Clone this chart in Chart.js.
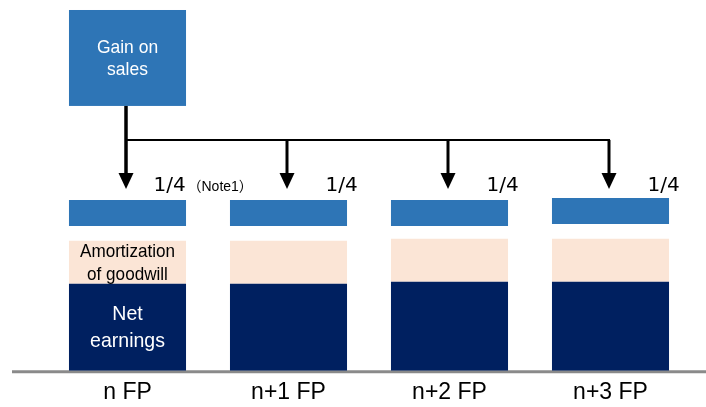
<!DOCTYPE html>
<html>
<head>
<meta charset="utf-8">
<script src="https://cdn.jsdelivr.net/npm/chart.js@4/dist/chart.umd.min.js"></script>
<style>
  html, body { margin: 0; padding: 0; background: #fff; }
  #wrap { width: 706px; height: 407px; }
</style>
</head>
<body>
<div id="wrap"><canvas id="goodwillChart"></canvas></div>
<script>
// periods and stacked pieces (units = height)
const periods = ['n FP', 'n+1 FP', 'n+2 FP', 'n+3 FP'];
const netEarnings = [87, 87, 89, 89];
const amortization = [43, 43, 43, 43];
const spacer = [15, 15, 13, 15];
const gainQuarter = [26, 26, 26, 26];
const shareLabels = ['1/4', '1/4', '1/4', '1/4'];

const NAVY = '#002060';
const PEACH = '#FBE5D6';
const BLUE = '#2E75B6';

// squeezed text, the original font is a bit narrower than Liberation Sans
function narrowText(ctx, text, x, y, squeeze) {
    ctx.save();
    ctx.translate(x, y);
    ctx.scale(squeeze, 1);
    ctx.fillText(text, 0, 0);
    ctx.restore();
}

// draws the "Gain on sales" box, arrows and in-bar texts
const diagramPlugin = {
    id: 'diagram',
    beforeDatasetsDraw(chart) {
        const ctx = chart.ctx;
        const base = chart.scales.y.getPixelForValue(0);
        ctx.save();
        ctx.strokeStyle = '#8a8a8a';
        ctx.lineWidth = 3;
        ctx.beginPath();
        ctx.moveTo(12, base + 1);
        ctx.lineTo(chart.width, base + 1);
        ctx.stroke();
        ctx.restore();
    },
    afterDatasetsDraw(chart) {
        const ctx = chart.ctx;
        const y = chart.scales.y;
        const gainMeta = chart.getDatasetMeta(3);
        const amortMeta = chart.getDatasetMeta(1);
        const netMeta = chart.getDatasetMeta(0);
        const first = gainMeta.data[0];
        const half = first.width / 2;
        const xs = gainMeta.data.map(b => b.x - 1.5);

        ctx.save();
        // source box
        const boxTop = y.getPixelForValue(361);
        const boxBottom = y.getPixelForValue(265);
        ctx.fillStyle = BLUE;
        ctx.fillRect(first.x - half, boxTop, first.width, boxBottom - boxTop);
        ctx.fillStyle = '#fff';
        ctx.font = '19px "Liberation Sans", Arial, sans-serif';
        ctx.textAlign = 'center';
        ctx.textBaseline = 'middle';
        const boxMid = (boxTop + boxBottom) / 2;
        narrowText(ctx, 'Gain on', first.x, boxMid - 10, 0.92);
        narrowText(ctx, 'sales', first.x, boxMid + 12, 0.92);

        // connectors
        const railY = y.getPixelForValue(231);
        const tipY = y.getPixelForValue(182);
        ctx.strokeStyle = '#000';
        ctx.lineWidth = 3.5;
        ctx.beginPath();
        ctx.moveTo(xs[0], boxBottom);
        ctx.lineTo(xs[0], tipY - 12);
        ctx.stroke();
        ctx.lineWidth = 2;
        ctx.beginPath();
        ctx.moveTo(xs[0], railY);
        ctx.lineTo(xs[xs.length - 1] + 1, railY);
        ctx.stroke();
        ctx.lineWidth = 3;
        xs.forEach((x, i) => {
            if (i > 0) {
                ctx.beginPath();
                ctx.moveTo(x, railY);
                ctx.lineTo(x, tipY - 12);
                ctx.stroke();
            }
            ctx.fillStyle = '#000';
            ctx.beginPath();
            ctx.moveTo(x - 7.5, tipY - 16);
            ctx.lineTo(x + 7.5, tipY - 16);
            ctx.lineTo(x, tipY);
            ctx.closePath();
            ctx.fill();
        });

        // 1/4 labels
        ctx.fillStyle = '#000';
        ctx.textAlign = 'left';
        ctx.font = '20px "DejaVu Sans", Verdana, sans-serif';
        const shareY = y.getPixelForValue(185);
        gainMeta.data.forEach((b, i) => {
            const offset = i === 0 ? 26 : 37;
            ctx.fillText(shareLabels[i], b.x + offset, shareY);
        });
        ctx.font = '14px "Liberation Sans", Arial, "Noto Sans CJK JP", sans-serif';
        ctx.fillText('（Note1）', gainMeta.data[0].x + 60, shareY + 1);

        // texts inside the first bar
        const a = amortMeta.data[0];
        const aMid = (a.y + a.base) / 2;
        ctx.textAlign = 'center';
        ctx.fillStyle = '#000';
        ctx.font = '19px "Liberation Sans", Arial, sans-serif';
        narrowText(ctx, 'Amortization', a.x, aMid - 11, 0.9);
        narrowText(ctx, 'of goodwill', a.x, aMid + 12, 0.9);
        const n = netMeta.data[0];
        const nMid = (n.y + n.base) / 2;
        ctx.fillStyle = '#fff';
        ctx.font = '21px "Liberation Sans", Arial, sans-serif';
        narrowText(ctx, 'Net', n.x, nMid - 13, 0.93);
        narrowText(ctx, 'earnings', n.x, nMid + 14, 0.93);
        ctx.restore();
    }
};

new Chart(document.getElementById('goodwillChart'), {
    type: 'bar',
    data: {
        labels: periods,
        datasets: [
            { label: 'Net earnings', data: netEarnings, backgroundColor: NAVY },
            { label: 'Amortization of goodwill', data: amortization, backgroundColor: PEACH },
            { label: 'spacer', data: spacer, backgroundColor: 'rgba(0,0,0,0)' },
            { label: 'Gain on sales 1/4', data: gainQuarter, backgroundColor: BLUE }
        ]
    },
    options: {
        responsive: true,
        maintainAspectRatio: false,
        animation: false,
        layout: { padding: { left: 47, right: 15, top: 0, bottom: -7.4 } },
        datasets: { bar: { categoryPercentage: 1, barPercentage: 0.727, borderWidth: 0 } },
        scales: {
            x: {
                stacked: true,
                grid: { display: false, drawTicks: false },
                border: { display: false },
                ticks: {
                    padding: 8,
                    color: '#000',
                    font: { family: '"Liberation Sans", Arial, sans-serif', size: 23 }
                }
            },
            y: { stacked: true, display: false, min: 0, max: 371 }
        },
        plugins: {
            legend: { display: false },
            tooltip: { enabled: false }
        }
    },
    plugins: [diagramPlugin]
});
</script>
</body>
</html>
